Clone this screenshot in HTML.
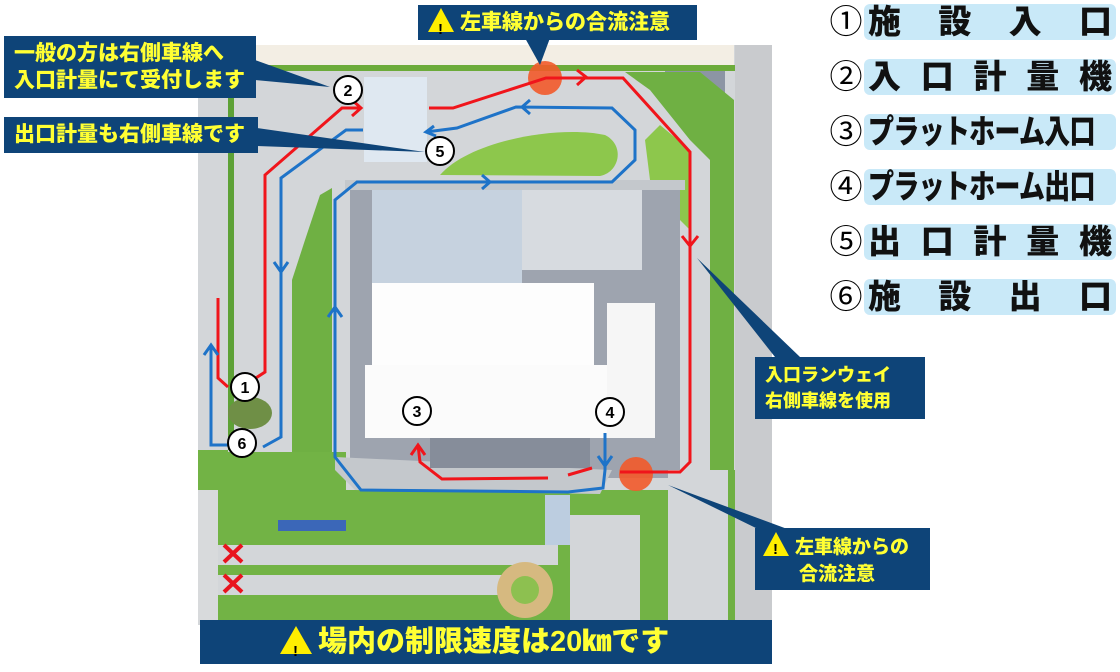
<!DOCTYPE html>
<html><head><meta charset="utf-8"><style>
html,body{margin:0;padding:0;background:#fff;width:1120px;height:672px;overflow:hidden;position:relative;font-family:"Liberation Sans","Noto Sans CJK JP",sans-serif}
.box{position:absolute;background:#0e4478;color:#ffff33;font-weight:900;box-sizing:border-box;white-space:nowrap}
.num{position:absolute;left:826px;width:40px;font-size:33px;color:#000;text-align:center;line-height:38px}
.pill{position:absolute;left:864px;width:252px;height:36px;background:#c9e9f8;border-radius:6px;font-size:33px;font-weight:900;color:#111;line-height:36px;display:flex;justify-content:space-between;padding:0 4px;box-sizing:border-box;white-space:nowrap}
.sq{display:inline-block;transform:scaleX(0.79);transform-origin:0 50%;letter-spacing:-1px}
.tri{display:inline-block;width:0;height:0;border-left:13px solid transparent;border-right:13px solid transparent;border-bottom:24px solid #ffee00;position:relative;vertical-align:-3px;margin-right:6px}
.tri:after{content:"!";position:absolute;left:-3px;top:4px;color:#000;font-size:15px;font-weight:bold}
</style></head><body>
<svg width="1120" height="672" style="position:absolute;left:0;top:0">
<rect x="198" y="45" width="574" height="580" fill="#d3d6d9"/>
<rect x="198" y="45" width="536" height="20" fill="#f3eee4"/>
<rect x="735" y="45" width="37" height="580" fill="#c9cbce"/>
<rect x="228" y="65" width="507" height="6" fill="#6cab3a"/>
<rect x="228" y="65" width="6" height="385" fill="#5da136"/>
<rect x="665" y="71" width="60" height="28" fill="#8c95a4"/>
<polygon points="625,72 700,72 734,100 734,470 710,470 710,160 690,140 650,90" fill="#6fb043"/>
<polygon points="660,125 690,150 690,230 675,215 650,180 645,140" fill="#8dc74c"/>
<path d="M440,175 C470,140 560,125 605,135 C625,145 620,172 600,176 Z" fill="#8dc74c"/>
<rect x="350" y="188" width="330" height="290" fill="#9ea4af"/>
<rect x="345" y="180" width="340" height="10" fill="#c4c8cc"/>
<polygon points="292,460 292,280 305,240 320,195 332,188 332,470 320,485" fill="#6fb043"/>
<rect x="228" y="452" width="118" height="40" fill="#72b345"/>
<rect x="198" y="450" width="30" height="40" fill="#72b345"/>
<rect x="198" y="490" width="500" height="130" fill="#72b345"/>
<rect x="198" y="490" width="20" height="130" fill="#d8dadc"/>
<polygon points="335,457 335,470 355,490 600,494 612,470" fill="#c4c8cc"/>
<rect x="372" y="190" width="150" height="93" fill="#c6d2df"/>
<rect x="522" y="190" width="120" height="80" fill="#d7dbe0"/>
<rect x="372" y="283" width="222" height="82" fill="#fdfdfd"/>
<rect x="365" y="365" width="251" height="73" fill="#fbfbfb"/>
<rect x="607" y="303" width="48" height="135" fill="#f6f6f6"/>
<rect x="430" y="438" width="160" height="30" fill="#868d9a"/>
<rect x="364" y="77" width="63" height="85" fill="#dfe8f1"/>
<rect x="218" y="545" width="340" height="20" fill="#d3d6d9"/>
<rect x="218" y="575" width="300" height="20" fill="#d3d6d9"/>
<rect x="570" y="515" width="70" height="105" fill="#d3d6d9"/>
<rect x="668" y="470" width="60" height="150" fill="#d3d6d9"/>
<rect x="728" y="470" width="7" height="150" fill="#6fb043"/>
<rect x="278" y="520" width="68" height="11" fill="#3b67b8"/>
<rect x="545" y="495" width="25" height="50" fill="#bccde0"/>
<circle cx="525" cy="590" r="28" fill="#d6b980"/><circle cx="525" cy="590" r="14" fill="#8dc050"/>
<ellipse cx="250" cy="413" rx="22" ry="16" fill="#6f8f46"/>
<g stroke="#e8141e" stroke-width="4"><line x1="224" y1="545" x2="242" y2="562"/><line x1="242" y1="545" x2="224" y2="562"/><line x1="224" y1="575" x2="242" y2="592"/><line x1="242" y1="575" x2="224" y2="592"/></g>
<circle cx="545" cy="78" r="17" fill="#f25a2a" opacity=".9"/>
<circle cx="636" cy="474" r="17" fill="#f25a2a" opacity=".9"/>
<g fill="none" stroke-width="3" stroke-linejoin="miter">
<polyline stroke="#f0151b" points="245,385 265,372 265,175 342,108 361,108"/>
<polyline stroke="#f0151b" points="429,108 453,108 546,78 623,78 690,152 690,462 680,472 620,472"/>
<polyline stroke="#f0151b" points="592,468 568,475"/>
<polyline stroke="#f0151b" points="548,478 442,479 420,462 418,445"/>
<polyline stroke="#f0151b" points="218,298 218,378 228,387"/>
<polyline stroke="#1e73c8" points="426,132 457,128 516,107 612,108 635,130 635,160 612,182 357,182 335,200 335,457 361,490 568,492 603,488 605,470 605,433"/>
<polyline stroke="#1e73c8" points="363,130 346,130 281,178 281,437 263,447"/>
<polyline stroke="#1e73c8" points="228,445 211,445 211,345"/>
<polyline stroke="#f0151b" points="352,100 361,108 352,116"/>
<polyline stroke="#f0151b" points="577,70 586,77 577,85"/>
<polyline stroke="#f0151b" points="682,236 690,246 698,236"/>
<polyline stroke="#f0151b" points="411,455 418,445 425,455"/>
<polyline stroke="#1e73c8" points="482,175 490,182 482,189"/>
<polyline stroke="#1e73c8" points="530,100 522,107 530,114"/>
<polyline stroke="#1e73c8" points="328,317 335,307 342,317"/>
<polyline stroke="#1e73c8" points="274,262 281,272 288,262"/>
<polyline stroke="#1e73c8" points="204,355 211,345 218,355"/>
<polyline stroke="#1e73c8" points="598,456 605,466 612,456"/>
<polyline stroke="#1e73c8" points="434,126 426,132 436,136"/>
</g>
<g fill="#0e4478">
<polygon points="525,38 550,38 540,65"/>
<polygon points="255,60 255,80 330,87"/>
<polygon points="257,128 257,146 425,152"/>
<polygon points="775,357 800,357 697,258"/>
<polygon points="760,530 790,530 668,485"/>
</g>
<g font-family="Liberation Sans,sans-serif" font-weight="bold" font-size="16" text-anchor="middle">
<g fill="#fff" stroke="#000" stroke-width="2">
<circle cx="245" cy="387" r="14"/><circle cx="348" cy="90" r="14"/><circle cx="417" cy="411" r="14"/><circle cx="610" cy="412" r="14"/><circle cx="440" cy="151" r="14"/><circle cx="242" cy="443" r="14"/></g>
<text x="245" y="393">1</text><text x="348" y="96">2</text><text x="417" y="417">3</text><text x="610" y="418">4</text><text x="440" y="157">5</text><text x="242" y="449">6</text>
</g>
</svg>
<div class="box" style="left:418px;top:5px;width:279px;height:35px;font-size:21px;line-height:35px;padding-left:10px"><span class="tri"></span>左車線からの合流注意</div>
<div class="box" style="left:4px;top:36px;width:252px;height:62px;font-size:21px;line-height:27px;padding:4px 0 0 10px">一般の方は右側車線へ<br>入口計量にて受付します</div>
<div class="box" style="left:4px;top:117px;width:254px;height:36px;font-size:21px;line-height:36px;padding-left:10px">出口計量も右側車線です</div>
<div class="box" style="left:755px;top:357px;width:170px;height:62px;font-size:18px;line-height:26px;padding:5px 0 0 10px">入口ランウェイ<br>右側車線を使用</div>
<div class="box" style="left:755px;top:528px;width:175px;height:62px;font-size:19px;line-height:27px;padding:4px 0 0 8px"><span class="tri"></span>左車線からの<br><span style="padding-left:36px">合流注意</span></div>
<div class="box" style="left:200px;top:620px;width:572px;height:44px;font-size:29px;line-height:44px;padding-left:80px"><span class="tri" style="border-left-width:16px;border-right-width:16px;border-bottom-width:28px"></span>場内の制限速度は20㎞です</div>
<div class="num" style="top:3px">①</div><div class="pill" style="top:4px"><span>施</span><span>設</span><span>入</span><span>口</span></div>
<div class="num" style="top:58px">②</div><div class="pill" style="top:59px"><span>入</span><span>口</span><span>計</span><span>量</span><span>機</span></div>
<div class="num" style="top:113px">③</div><div class="pill" style="top:114px"><span class="sq">プラットホーム入口</span></div>
<div class="num" style="top:168px">④</div><div class="pill" style="top:169px"><span class="sq">プラットホーム出口</span></div>
<div class="num" style="top:223px">⑤</div><div class="pill" style="top:224px"><span>出</span><span>口</span><span>計</span><span>量</span><span>機</span></div>
<div class="num" style="top:278px">⑥</div><div class="pill" style="top:279px"><span>施</span><span>設</span><span>出</span><span>口</span></div>
</body></html>
